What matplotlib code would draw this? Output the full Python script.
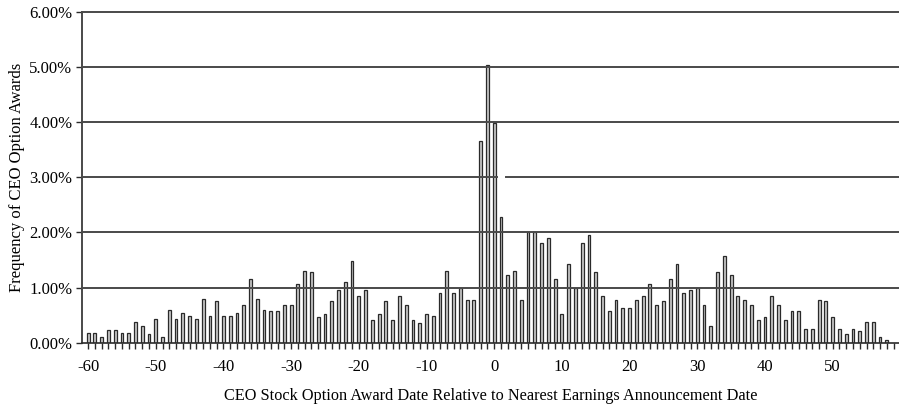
import numpy as np
import matplotlib.pyplot as plt
from matplotlib.ticker import FuncFormatter, MultipleLocator

# Days relative to nearest earnings announcement
days = list(range(-60, 59))

# Frequency of CEO option awards (%)
freq = [
    0.17, 0.17, 0.11, 0.23, 0.23, 0.17, 0.17, 0.37, 0.31, 0.16,   # -60..-51
    0.43, 0.11, 0.59, 0.43, 0.54, 0.48, 0.43, 0.79, 0.48, 0.75,   # -50..-41
    0.48, 0.48, 0.54, 0.69, 1.16, 0.79, 0.59, 0.58, 0.58, 0.69,   # -40..-31
    0.69, 1.06, 1.30, 1.28, 0.47, 0.52, 0.75, 0.95, 1.11, 1.48,   # -30..-21
    0.84, 0.95, 0.42, 0.53, 0.75, 0.42, 0.84, 0.69, 0.42, 0.36,   # -20..-11
    0.53, 0.48, 0.90, 1.31, 0.90, 1.00, 0.78, 0.78, 3.66, 5.03,   # -10..-1
    3.98, 2.28, 1.22, 1.31, 0.78, 2.00, 2.00, 1.81, 1.90, 1.16,   # 0..9
    0.53, 1.42, 1.00, 1.81, 1.95, 1.28, 0.84, 0.58, 0.78, 0.63,   # 10..19
    0.63, 0.78, 0.84, 1.06, 0.69, 0.75, 1.16, 1.42, 0.90, 0.95,   # 20..29
    1.00, 0.69, 0.31, 1.28, 1.58, 1.22, 0.84, 0.78, 0.69, 0.42,   # 30..39
    0.47, 0.84, 0.69, 0.42, 0.58, 0.58, 0.25, 0.25, 0.78, 0.75,   # 40..49
    0.47, 0.25, 0.16, 0.25, 0.21, 0.37, 0.37, 0.10, 0.05,         # 50..58
]

x_ticks = list(range(-60, 51, 10))
y_ticks = [0, 1, 2, 3, 4, 5, 6]

plt.rcParams['font.family'] = ['Liberation Serif', 'DejaVu Serif']
plt.rcParams['axes.unicode_minus'] = False

fig = plt.figure(figsize=(8.99, 4.09), dpi=100)
ax = fig.add_axes([0.0912, 0.162, 0.9088, 0.8087])

ax.bar(days, freq, width=0.42, color='#c8c8c8', edgecolor='#2a2a2a',
       linewidth=0.9, zorder=2)

ax.set_xlim(-60.9, 59.8)
ax.set_ylim(0, 6)

# gridlines (the 3% line has a small break in the original, right of day 0)
for yv in y_ticks[1:]:
    if yv == 3:
        ax.plot([-60.9, 0.4], [yv, yv], color='#4a4a4a', lw=1.4, zorder=3,
                clip_on=False)
        ax.plot([1.75, 59.8], [yv, yv], color='#4a4a4a', lw=1.4, zorder=3,
                clip_on=False)
    else:
        ax.axhline(yv, color='#4a4a4a', lw=1.4, zorder=3, clip_on=False)

ax.set_xticks(x_ticks)
ax.xaxis.set_minor_locator(MultipleLocator(1))
ax.set_yticks(y_ticks)
ax.yaxis.set_major_formatter(FuncFormatter(lambda v, p: f"{v:.2f}%"))

for side in ['top', 'right']:
    ax.spines[side].set_visible(False)
ax.spines['left'].set_color('#2a2a2a')
ax.spines['bottom'].set_color('#2a2a2a')
ax.spines['left'].set_linewidth(1.2)
ax.spines['bottom'].set_linewidth(1.2)
ax.spines['bottom'].set_zorder(4)

ax.tick_params(axis='x', which='major', length=4, width=1, direction='out',
               labelsize=12, pad=8, color='#2a2a2a')
ax.tick_params(axis='x', which='minor', length=4, width=1, direction='out',
               color='#2a2a2a')
ax.tick_params(axis='y', length=4, width=1, direction='out', labelsize=12,
               pad=3, color='#2a2a2a')

ax.set_xlabel('CEO Stock Option Award Date Relative to Nearest Earnings Announcement Date',
              fontsize=11.7, labelpad=9)
ax.set_ylabel('Frequency of CEO Option Awards', fontsize=12, labelpad=3)

fig.savefig('out.png', dpi=100)
